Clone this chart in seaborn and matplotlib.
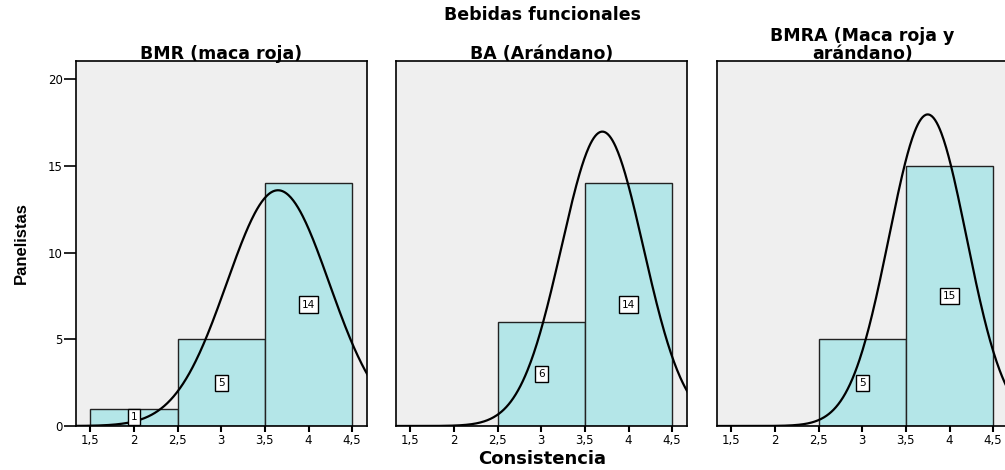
import numpy as np
import matplotlib
matplotlib.use("Agg")
import matplotlib.pyplot as plt
from matplotlib import font_manager
import seaborn as sns

# ---- data ----
panel_titles = ["BMR (maca roja)", "BA (Arándano)", "BMRA (Maca roja y\narándano)"]
scores = [2, 3, 4]                      # bin centres (Consistencia)
counts_bmr = [1, 5, 14]
counts_ba = [0, 6, 14]
counts_bmra = [0, 5, 15]
bin_edges = [1.5, 2.5, 3.5, 4.5]
xtick_vals = [1.5, 2, 2.5, 3, 3.5, 4, 4.5]
xtick_labels = ["1,5", "2", "2,5", "3", "3,5", "4", "4,5"]
ytick_vals = [0, 5, 10, 15, 20]
main_title = "Bebidas funcionales"
x_label = "Consistencia"
y_label = "Panelistas"

sns.set_theme(style="white")
plt.rcParams['font.family'] = ['DejaVu Sans']
plt.rcParams['text.color'] = 'black'
plt.rcParams['axes.labelcolor'] = 'black'
plt.rcParams['xtick.color'] = 'black'
plt.rcParams['ytick.color'] = 'black'

def has_font(name):
    try:
        font_manager.findfont(font_manager.FontProperties(family=name), fallback_to_default=False)
        return True
    except Exception:
        return False

narrow = "Liberation Sans Narrow" if has_font("Liberation Sans Narrow") else "Liberation Sans"

W, H = 1005, 470
fig = plt.figure(figsize=(W / 100, H / 100), dpi=100)
fig.patch.set_facecolor("white")

bar_color = "#b4e6e8"
bg_color = "#efefef"
lefts = [76, 396, 717]
aw = 291
top_px, bot_px = 61, 426

all_counts = [counts_bmr, counts_ba, counts_bmra]
for i, (cnts, title) in enumerate(zip(all_counts, panel_titles)):
    ax = fig.add_axes([lefts[i] / W, (H - bot_px) / H, aw / W, (bot_px - top_px) / H])
    ax.set_facecolor(bg_color)
    sns.histplot(x=scores, weights=cnts, bins=bin_edges, ax=ax, color=bar_color,
                 edgecolor="#222222", linewidth=1.0, alpha=1.0, zorder=2)
    # fitted normal curve from the counts
    v = np.repeat(scores, cnts).astype(float)
    m, s = v.mean(), v.std(ddof=1)
    n = len(v)
    bw = bin_edges[1] - bin_edges[0]
    xs = np.linspace(1.2, 4.8, 400)
    ys = n * bw / (s * np.sqrt(2 * np.pi)) * np.exp(-0.5 * ((xs - m) / s) ** 2)
    ax.plot(xs, ys, color="black", lw=1.6, zorder=3)
    # value labels
    for xc, c in zip(scores, cnts):
        if c > 0:
            ax.text(xc, c / 2, str(c), ha="center", va="center", fontsize=7.5, zorder=4,
                    bbox=dict(boxstyle="square,pad=0.3", fc="white", ec="black", lw=1.0))
    ax.set_xlim(1.335, 4.67)
    ax.set_ylim(0, 21.04)
    ax.set_xticks(xtick_vals)
    ax.set_xticklabels(xtick_labels, fontsize=8.5)
    ax.tick_params(axis="x", length=4, width=1.5, color="black", pad=2, direction="out", bottom=True)
    if i == 0:
        ax.set_yticks(ytick_vals)
        ax.set_yticklabels([str(t) for t in ytick_vals], fontsize=8.5)
        ax.tick_params(axis="y", length=8.5, width=1.2, color="black", pad=1, direction="out", left=True)
    else:
        ax.set_yticks([])
    ax.set_xlabel("")
    ax.set_ylabel("")
    for sp in ax.spines.values():
        sp.set_color("black")
        sp.set_linewidth(1.2)
        sp.set_visible(True)
    ax.set_title(title, fontsize=12.5, fontweight="bold", pad=1.5, linespacing=1.0, color="black")

fig.text(542 / W, 1 - 15 / H, main_title, ha="center", va="center", fontsize=12.5, fontweight="bold")
fig.text(542 / W, 1 - 459 / H, x_label, ha="center", va="center", fontsize=13, fontweight="bold")
fig.text(21 / W, 1 - 243 / H, y_label, ha="center", va="center", rotation=90, fontsize=12,
         fontweight="bold", family=[narrow, "DejaVu Sans"])

fig.savefig("out.png", dpi=100)
